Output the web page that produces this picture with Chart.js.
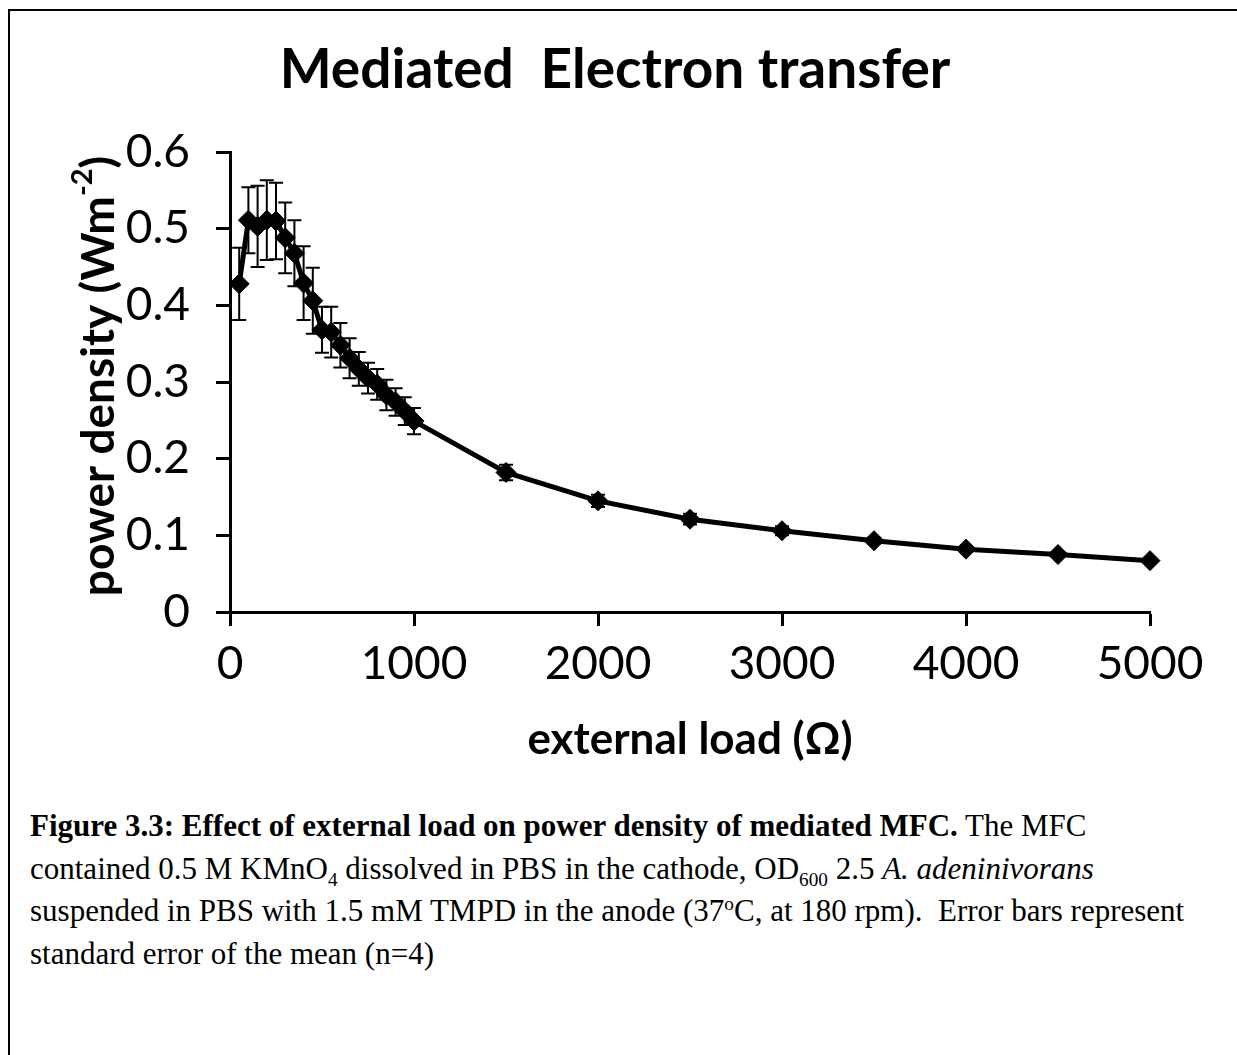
<!DOCTYPE html>
<html>
<head>
<meta charset="utf-8">
<script src="https://cdn.jsdelivr.net/npm/chart.js@4.4.1/dist/chart.umd.min.js"></script>
<style>
  html, body { margin: 0; padding: 0; background: #fff; }
  body { width: 1237px; height: 1055px; position: relative; overflow: hidden; }
  #frame {
    position: absolute; left: 8px; top: 9px; width: 1260px; height: 1100px;
    border-top: 2px solid #000; border-left: 2px solid #000;
  }
  #chartWrap { position: absolute; left: 0; top: 0; width: 1237px; height: 790px; }
  #caption {
    position: absolute; left: 30px; top: 805px;
    font-family: "Liberation Serif", "Times New Roman", serif;
    font-size: 31px; line-height: 42.5px; color: #000; white-space: nowrap;
  }
  #caption sub, #caption sup { font-size: 0.62em; line-height: 0; }
</style>
</head>
<body>
<div id="frame"></div>
<div id="chartWrap"><canvas id="loadChart" width="1237" height="790"></canvas></div>
<div id="caption">
  <div><b>Figure 3.3: Effect of external load on power density of mediated MFC.</b> The MFC</div>
  <div>contained 0.5 M KMnO<sub>4</sub> dissolved in PBS in the cathode, OD<sub>600</sub> 2.5 <i>A. adeninivorans</i></div>
  <div>suspended in PBS with 1.5 mM TMPD in the anode (37<sup>o</sup>C, at 180 rpm).&nbsp; Error bars represent</div>
  <div>standard error of the mean (n=4)</div>
</div>

<script>
/*************************************************
 * 1. Data
 *************************************************/
const loads = [50, 100, 150, 200, 250, 300, 350, 400, 450, 500,
               550, 600, 650, 700, 750, 800, 850, 900, 950, 1000,
               1500, 2000, 2500, 3000, 3500, 4000, 4500, 5000];
const powerDensity = [0.428, 0.511, 0.503, 0.511, 0.510, 0.488, 0.468, 0.429, 0.406, 0.368,
                      0.365, 0.348, 0.331, 0.317, 0.305, 0.297, 0.283, 0.274, 0.262, 0.249,
                      0.182, 0.145, 0.121, 0.106, 0.093, 0.082, 0.075, 0.067];
const semErr = [0.047, 0.043, 0.053, 0.052, 0.050, 0.046, 0.043, 0.048, 0.043, 0.030,
                0.033, 0.029, 0.026, 0.022, 0.020, 0.020, 0.020, 0.018, 0.018, 0.017,
                0.010, 0.008, 0.007, 0.006, 0.004, 0.003, 0.003, 0.002];
const xTicks = [0, 1000, 2000, 3000, 4000, 5000];
const yTicks = [0, 0.1, 0.2, 0.3, 0.4, 0.5, 0.6];

const titleText = "Mediated  Electron transfer";
const xTitle = "external load (\u03A9)";

/*************************************************
 * 2. Plugins: error bars + y title with superscript
 *************************************************/
const errorBars = {
    id: "errorBars",
    beforeDatasetsDraw(chart) {
        const { ctx, scales: { x, y } } = chart;
        ctx.save();
        ctx.strokeStyle = "#000";
        ctx.lineWidth = 2;
        loads.forEach((l, i) => {
            const px = x.getPixelForValue(l);
            const top = y.getPixelForValue(powerDensity[i] + semErr[i]);
            const bot = y.getPixelForValue(powerDensity[i] - semErr[i]);
            ctx.beginPath();
            ctx.moveTo(px, top); ctx.lineTo(px, bot);
            ctx.moveTo(px - 7, top); ctx.lineTo(px + 7, top);
            ctx.moveTo(px - 7, bot); ctx.lineTo(px + 7, bot);
            ctx.stroke();
        });
        ctx.restore();
    }
};

const yAxisTitle = {
    id: "yAxisTitle",
    afterDraw(chart) {
        const { ctx, chartArea } = chart;
        const main = "bold 46px Lato";
        const small = "bold 29px Lato";
        const parts = [["power density (Wm", main, 0], ["-2", small, -16], [")", main, 0]];
        ctx.save();
        ctx.translate(chartArea.left - 131, (chartArea.top + chartArea.bottom) / 2 - 6);
        ctx.rotate(-Math.PI / 2);
        ctx.fillStyle = "#000";
        ctx.textBaseline = "middle";
        let total = 0;
        parts.forEach(p => { ctx.font = p[1]; total += ctx.measureText(p[0]).width; });
        let cx = -total / 2;
        parts.forEach(p => {
            ctx.font = p[1];
            ctx.fillText(p[0], cx, p[2]);
            cx += ctx.measureText(p[0]).width;
        });
        ctx.restore();
    }
};

/*************************************************
 * 3. Chart
 *************************************************/
window.onload = () => {
    Chart.defaults.font.family = "Lato";
    Chart.defaults.color = "#000";

    new Chart(document.getElementById("loadChart"), {
        type: "scatter",
        data: {
            datasets: [{
                data: loads.map((l, i) => ({ x: l, y: powerDensity[i] })),
                showLine: true,
                clip: false,
                borderColor: "#000",
                borderWidth: 5,
                pointStyle: "rectRot",
                pointRadius: 10,
                pointBackgroundColor: "#000",
                pointBorderColor: "#000",
                pointBorderWidth: 1
            }]
        },
        options: {
            responsive: false,
            animation: false,
            devicePixelRatio: 1,
            layout: { padding: { left: 80, right: 87, top: 0, bottom: 24 } },
            plugins: {
                legend: { display: false },
                tooltip: { enabled: false },
                title: {
                    display: true,
                    text: titleText,
                    color: "#000",
                    font: { size: 55, weight: "bold", lineHeight: 1.2 },
                    padding: { top: 37, bottom: 49 }
                }
            },
            scales: {
                x: {
                    type: "linear",
                    min: 0, max: 5000,
                    afterBuildTicks: s => { s.ticks = xTicks.map(v => ({ value: v })); },
                    afterFit: s => { s.height = 154; },
                    ticks: { font: { size: 46 }, padding: 11, maxRotation: 0, callback: v => String(v) },
                    grid: { drawOnChartArea: false, drawTicks: true, tickLength: 14, tickWidth: 3, color: "#000" },
                    border: { display: true, color: "#000", width: 3 },
                    title: { display: true, text: xTitle, font: { size: 44, weight: "bold", lineHeight: 1.2 }, padding: 0 }
                },
                y: {
                    min: 0, max: 0.6,
                    afterBuildTicks: s => { s.ticks = yTicks.map(v => ({ value: v })); },
                    afterFit: s => { s.width = 150; },
                    ticks: { font: { size: 46 }, padding: 26, callback: v => String(v) },
                    grid: { drawOnChartArea: false, drawTicks: true, tickLength: 14, tickWidth: 3, color: "#000" },
                    border: { display: true, color: "#000", width: 3 }
                }
            }
        },
        plugins: [errorBars, yAxisTitle]
    });
};
</script>
</body>
</html>
